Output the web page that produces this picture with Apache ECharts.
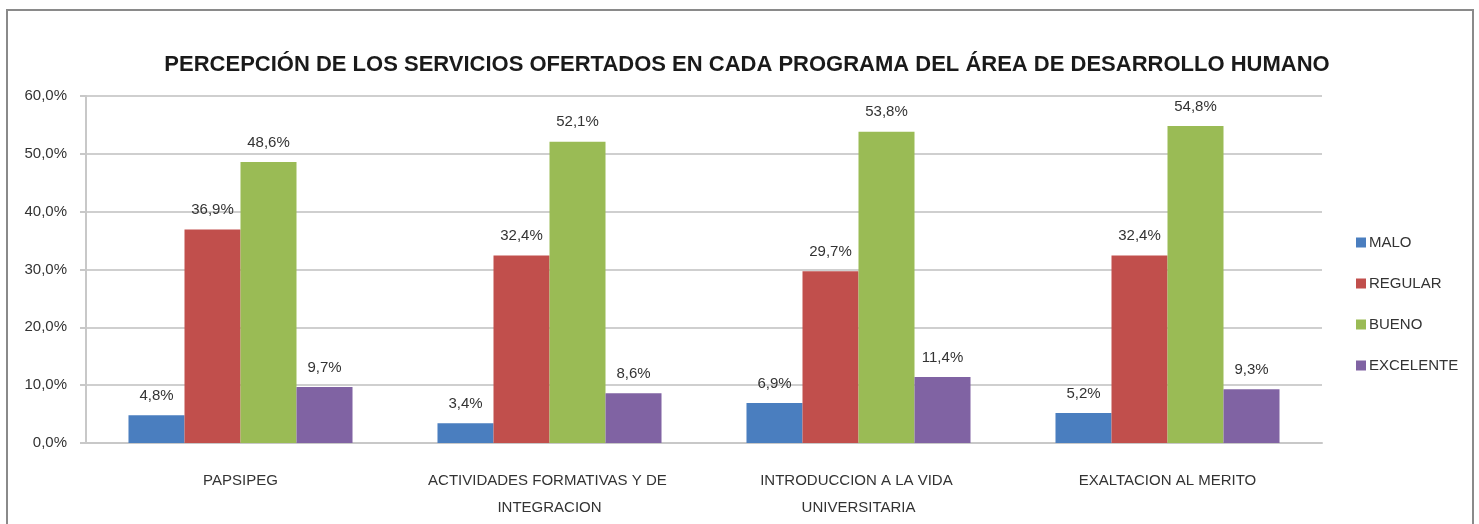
<!DOCTYPE html>
<html>
<head>
<meta charset="utf-8">
<script src="https://cdn.jsdelivr.net/npm/echarts@6/dist/echarts.min.js"></script>
<style>
  html, body { margin: 0; padding: 0; background: #fff; }
  #chart { width: 1479px; height: 524px; }
</style>
</head>
<body>
<div id="chart"></div>
<script>
// datos
const categories = [
  'PAPSIPEG',
  'ACTIVIDADES FORMATIVAS Y DE INTEGRACION',
  'INTRODUCCION A LA VIDA UNIVERSITARIA',
  'EXALTACION AL MERITO'
]
const seriesNames = ['MALO', 'REGULAR', 'BUENO', 'EXCELENTE']
const malo = [4.8, 3.4, 6.9, 5.2]
const regular = [36.9, 32.4, 29.7, 32.4]
const bueno = [48.6, 52.1, 53.8, 54.8]
const excelente = [9.7, 8.6, 11.4, 9.3]
const seriesValues = [malo, regular, bueno, excelente]
const colors = ['#4a7ebf', '#c14f4c', '#9abb55', '#8063a3']

const fontFamily = "'Liberation Sans', Arial, sans-serif"
const fmt = (v) => v.toFixed(1).replace('.', ',') + '%'

const chart = echarts.init(document.getElementById('chart'))

const options = {
  animation: false,
  color: colors,
  textStyle: { fontFamily },
  title: {
    text: 'PERCEPCIÓN DE LOS SERVICIOS OFERTADOS EN CADA PROGRAMA DEL ÁREA DE DESARROLLO HUMANO',
    left: 742,
    textAlign: 'center',
    top: 49,
    textStyle: {
      fontFamily,
      fontSize: 22,
      fontWeight: 'bold',
      color: '#1a1a1a'
    }
  },
  legend: {
    orient: 'vertical',
    left: 1351,
    top: 230,
    itemWidth: 10,
    itemHeight: 10,
    itemGap: 26,
    icon: 'rect',
    textStyle: { fontSize: 15, color: '#333', padding: [0, 0, 0, -2] },
    data: seriesNames
  },
  grid: {
    left: 86,
    right: 157,
    top: 96,
    bottom: 81,
    containLabel: false
  },
  xAxis: {
    type: 'category',
    data: categories,
    axisLine: { lineStyle: { color: '#c8c8c8', width: 2 } },
    axisTick: { show: false },
    axisLabel: {
      fontSize: 15,
      color: '#333',
      margin: 24,
      lineHeight: 27,
      width: 285,
      overflow: 'break',
      interval: 0
    }
  },
  yAxis: {
    type: 'value',
    min: 0,
    max: 60,
    interval: 10,
    axisLine: { show: true, lineStyle: { color: '#c8c8c8', width: 2 } },
    axisTick: { show: true, length: 6, lineStyle: { color: '#c8c8c8', width: 2 } },
    splitLine: { lineStyle: { color: '#cfcfcf', width: 2 } },
    axisLabel: {
      fontSize: 15,
      color: '#333',
      margin: 19,
      formatter: fmt
    }
  },
  graphic: [
    {
      type: 'rect',
      shape: { x: 7, y: 10, width: 1466, height: 530 },
      style: { fill: 'none', stroke: '#8a8a8a', lineWidth: 2 },
      z: 100
    }
  ],
  series: seriesNames.map((name, i) => ({
    name,
    type: 'bar',
    data: seriesValues[i],
    barGap: '0%',
    barCategoryGap: '27.5%',
    label: {
      show: true,
      position: 'top',
      distance: 12,
      fontSize: 15,
      color: '#333',
      formatter: (p) => fmt(p.value)
    }
  }))
}

chart.setOption(options)
</script>
</body>
</html>
